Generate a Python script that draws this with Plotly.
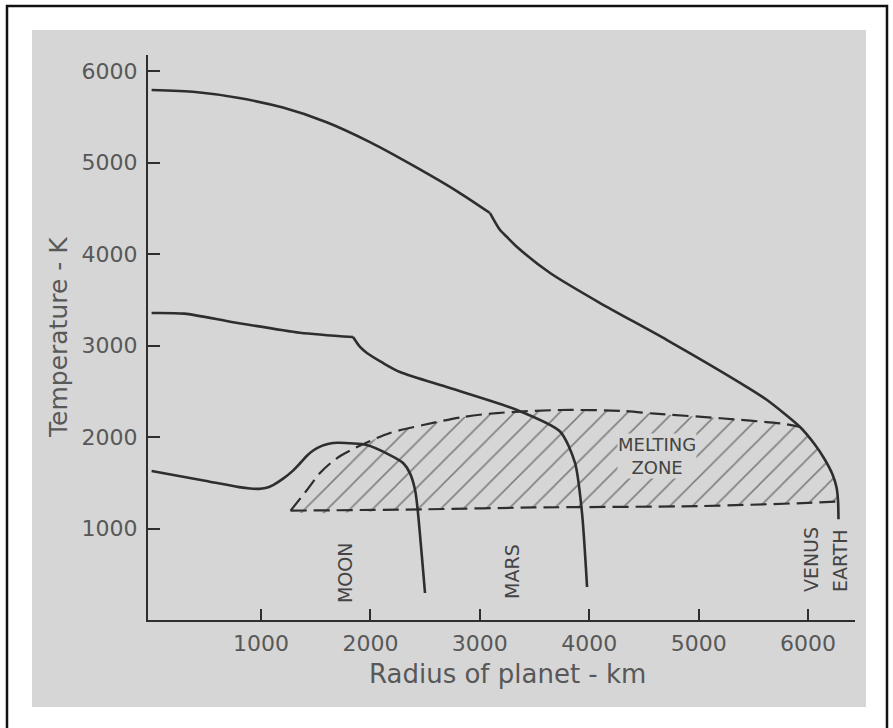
import plotly.graph_objects as go

# ---- data ----
earth_r = [0, 400, 800, 1200, 1600, 2000, 2400, 2800, 3093, 3185, 3248, 3340, 3642, 4099, 4711, 5442, 5625, 5927, 6060, 6150, 6220, 6260, 6274, 6278]
earth_t = [5792, 5770, 5705, 5600, 5440, 5220, 4960, 4680, 4448, 4262, 4186, 4077, 3792, 3464, 3060, 2546, 2404, 2109, 1920, 1760, 1600, 1450, 1300, 1100]
earth_kink = 8

mars_r = [0, 300, 744, 1356, 1841, 1905, 1968, 2115, 2270, 2727, 3340, 3733, 3870, 3934, 3980]
mars_t = [3355, 3348, 3255, 3140, 3093, 2984, 2918, 2809, 2710, 2535, 2295, 2060, 1716, 1169, 361]
mars_kink = 4

moon_r = [0, 450, 800, 900, 980, 1040, 1110, 1202, 1290, 1357, 1420, 1480, 1555, 1620, 1700, 1813, 1966, 2179, 2301, 2362, 2408, 2432, 2470, 2499]
moon_t = [1628, 1530, 1452, 1437, 1433, 1442, 1475, 1545, 1630, 1713, 1795, 1855, 1903, 1926, 1937, 1931, 1913, 1803, 1713, 1603, 1421, 1202, 700, 295]

melt_up_r = [1270, 1420, 1539, 1695, 1878, 2179, 2481, 2847, 3157, 3733, 4300, 4600, 5200, 5800, 5927]
melt_up_t = [1195, 1421, 1607, 1770, 1891, 2044, 2131, 2219, 2262, 2295, 2285, 2255, 2205, 2140, 2109]

melt_lo_r = [1270, 2500, 3500, 5000, 6000, 6290]
melt_lo_t = [1195, 1210, 1230, 1245, 1280, 1295]

x_ticks = [1000, 2000, 3000, 4000, 5000, 6000]
y_ticks = [1000, 2000, 3000, 4000, 5000, 6000]

labels = ["MOON", "MARS", "VENUS", "EARTH"]
label_r = [1768, 3294, 6028, 6293]
label_t = [514, 525, 656, 645]

# ---- styling ----
BG = "#d6d6d6"
INK = "#2e2e2e"
TXT = "#585858"
FONT = "DejaVu Sans"

fig = go.Figure()

# hatched melting zone polygon (upper boundary, earth curve, lower boundary reversed)
sel = [(r, t) for r, t in zip(earth_r, earth_t) if r > melt_up_r[-1] and t > melt_lo_t[-1]]
poly_r = melt_up_r + [p[0] for p in sel] + melt_lo_r[::-1]
poly_t = melt_up_t + [p[1] for p in sel] + melt_lo_t[::-1]
fig.add_trace(go.Scatter(
    x=poly_r, y=poly_t, mode="lines", fill="toself",
    line=dict(width=0, color="rgba(0,0,0,0)", shape="spline", smoothing=0.6),
    fillcolor="rgba(0,0,0,0)",
    fillpattern=dict(shape="/", size=16, solidity=0.1, fgcolor="#2a2a2a", bgcolor="rgba(0,0,0,0)"),
    hoverinfo="skip", showlegend=False))

dash = "16px,7px"
for xs, ys in ((melt_up_r, melt_up_t), (melt_lo_r, melt_lo_t)):
    fig.add_trace(go.Scatter(x=xs, y=ys, mode="lines",
                             line=dict(color=INK, width=2.2, dash=dash, shape="spline", smoothing=0.8),
                             showlegend=False))

def curve(xs, ys, sm=0.7):
    fig.add_trace(go.Scatter(x=xs, y=ys, mode="lines",
                             line=dict(color=INK, width=2.6, shape="spline", smoothing=sm),
                             showlegend=False))

curve(earth_r[:earth_kink + 1], earth_t[:earth_kink + 1])
curve(earth_r[earth_kink:], earth_t[earth_kink:])
curve(mars_r[:mars_kink + 1], mars_t[:mars_kink + 1])
curve(mars_r[mars_kink:], mars_t[mars_kink:])
curve(moon_r, moon_t, 0.9)

# ---- layout geometry ----
L, R, T, B = 148, 38, 55, 108
W, H = 893, 728
pw, ph = W - L - R, H - T - B

def px(xpix):
    return (xpix - L) / pw

def py(ypix):
    return (H - B - ypix) / ph

shapes = [
    dict(type="rect", xref="paper", yref="paper", x0=px(32), x1=px(866), y0=py(707), y1=py(30),
         fillcolor=BG, line=dict(width=0), layer="below"),
    dict(type="rect", xref="paper", yref="paper", x0=px(7), x1=px(887), y0=py(760), y1=py(6),
         fillcolor="rgba(0,0,0,0)", line=dict(color="#111", width=2.5), layer="below"),
]

annotations = []
for name, r, t in zip(labels, label_r, label_t):
    annotations.append(dict(x=r, y=t, xref="x", yref="y", text=name, showarrow=False,
                            textangle=-90, font=dict(family=FONT, size=19, color="#444"),
                            xanchor="center", yanchor="middle"))
annotations.append(dict(x=4620, y=1790, xref="x", yref="y", text="MELTING<br>ZONE", showarrow=False,
                        font=dict(family=FONT, size=18, color="#444"), bgcolor=BG, borderpad=0,
                        xanchor="center", yanchor="middle"))
annotations.append(dict(x=px(58), y=py(338), xref="paper", yref="paper", text="Temperature - K",
                        showarrow=False, textangle=-90, font=dict(family=FONT, size=25, color=TXT),
                        xanchor="center", yanchor="middle"))
annotations.append(dict(x=px(507), y=py(674), xref="paper", yref="paper", text="Radius of planet - km",
                        showarrow=False, font=dict(family=FONT, size=26, color=TXT),
                        xanchor="center", yanchor="middle"))

fig.update_layout(
    width=W, height=H, autosize=False,
    margin=dict(l=L, r=R, t=T, b=B, pad=0),
    paper_bgcolor="white", plot_bgcolor=BG,
    shapes=shapes, annotations=annotations,
    showlegend=False,
    xaxis=dict(range=[-33, 6429], showgrid=False, zeroline=False, showline=True,
               linecolor=INK, linewidth=2, ticks="inside", ticklen=11, tickwidth=1.5,
               tickcolor=INK, tickvals=x_ticks, ticktext=[str(v) for v in x_ticks],
               tickfont=dict(family=FONT, size=22, color=TXT), ticklabelstandoff=3),
    yaxis=dict(range=[0, 6175], showgrid=False, zeroline=False, showline=True,
               linecolor=INK, linewidth=2, ticks="inside", ticklen=12, tickwidth=1.5,
               tickcolor=INK, tickvals=y_ticks, ticktext=[str(v) for v in y_ticks],
               tickfont=dict(family=FONT, size=22, color=TXT), ticklabelstandoff=4),
)

fig.write_html("out.html", config={"displayModeBar": False},
               post_script="document.body.style.margin='0';document.body.style.overflow='hidden';")
